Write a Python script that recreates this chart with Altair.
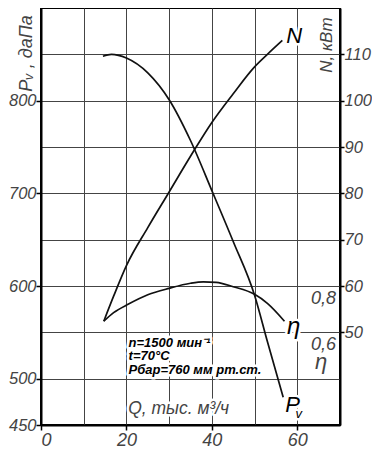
import altair as alt
import pandas as pd

# ---------------- data ----------------
pv_q = [14.5, 16.5, 20, 25, 30, 35, 40, 45, 50, 53, 56.7]
pv_val = [848, 850, 846, 830, 801, 757, 703, 648, 590, 540, 480]

n_q = [14.7, 17, 20, 25, 30, 35, 40, 45, 50, 53, 56.5]
n_val = [52.4, 57.8, 64.4, 72.6, 80.3, 88.0, 95.3, 101.5, 107.3, 110.0, 113]

eta_q = [14.7, 17, 20.5, 25, 30, 35, 38, 41, 45, 50, 53, 57]
eta_val = [0.648, 0.685, 0.722, 0.762, 0.79, 0.812, 0.818, 0.816, 0.797, 0.764, 0.725, 0.648]

x_ticks = [0, 20, 40, 60]
x_grid = [10, 20, 30, 40, 50, 60]
pv_ticks = [450, 500, 600, 700, 800]
n_ticks = [50, 60, 70, 80, 90, 100, 110]
eta_ticks = [0.6, 0.8]
eta_tick_labels = ["0,6", "0,8"]
note_lines = ["n=1500 мин⁻¹", "t=70°C", "Рбар=760 мм рт.ст."]

# ---------------- layout / style ----------------
W, H = 299, 417
FONT = "Liberation Sans"
GRAY = "#444444"
LINE = "#111111"

# every scale has an explicit domain, so independent scales still line up
XS = alt.Scale(domain=[0, 70], nice=False, zero=False)
YP = alt.Scale(domain=[450, 900], nice=False, zero=False)
YN = alt.Scale(domain=[30, 120], nice=False, zero=False)
YE = alt.Scale(domain=[0.2, 2.0], nice=False, zero=False)

pv_df = pd.DataFrame({"q": pv_q, "pv": pv_val})
n_df = pd.DataFrame({"q": n_q, "n": n_val})
eta_df = pd.DataFrame({"q": eta_q, "eta": eta_val})

halos, texts = [], []


def label(df, x, y, halo=True, **kw):
    color = kw.pop("color", "black")
    enc = dict(x=x, y=y, text=alt.Text("t:N"))
    base = alt.Chart(df)
    if halo:
        halos.append(base.mark_text(stroke="white", strokeWidth=5, fill="white",
                                    strokeJoin="round", **kw).encode(**enc))
    texts.append(base.mark_text(color=color, **kw).encode(**enc))


def xq():
    return alt.X("q:Q", scale=XS, axis=None)


yp = alt.Y("pv:Q", scale=YP, axis=None)
yn = alt.Y("n:Q", scale=YN, axis=None)
ye = alt.Y("eta:Q", scale=YE, axis=None)


def lbl(size):
    return dict(labelFont=FONT, labelFontSize=size, labelFontStyle="italic", labelColor=GRAY)


# ---------- curves with axes ----------
pv_line = alt.Chart(pv_df).mark_line(color=LINE, strokeWidth=1.7, interpolate="monotone").encode(
    x=alt.X("q:Q", scale=XS, axis=alt.Axis(
        values=x_ticks, grid=False, tickSize=5, tickColor="black", tickWidth=1.5,
        domain=True, domainColor="black", domainWidth=2,
        labelPadding=1, title=None, **lbl(18))),
    y=alt.Y("pv:Q", scale=YP, axis=alt.Axis(
        orient="left", values=pv_ticks, grid=True, gridColor=GRAY, gridWidth=1,
        tickSize=5, tickColor="black", tickWidth=1.5,
        domain=True, domainColor="black", domainWidth=2,
        labelPadding=0,
        title="Pᵥ ,  даПа", titleAngle=270, titleX=-15, titleY=45,
        titleAlign="center", titleBaseline="middle",
        titleFont=FONT, titleFontSize=18, titleFontStyle="italic",
        titleFontWeight="normal", titleColor=GRAY, **lbl(16.5))),
)

n_line = alt.Chart(n_df).mark_line(color=LINE, strokeWidth=1.7, interpolate="monotone").encode(
    x=alt.X("q:Q", scale=XS, axis=alt.Axis(
        orient="top", values=x_grid, grid=True, gridColor=GRAY, gridWidth=1,
        labels=False, ticks=False, domain=False, title=None)),
    y=alt.Y("n:Q", scale=YN, axis=alt.Axis(
        orient="right", values=n_ticks, grid=True, gridColor=GRAY, gridWidth=1,
        tickSize=4, tickColor="black", tickWidth=1.5,
        domain=True, domainColor="black", domainWidth=2,
        labelPadding=0, title=None, **lbl(16.5))),
)

eta_line = alt.Chart(eta_df).mark_line(color=LINE, strokeWidth=1.7, interpolate="monotone").encode(
    x=xq(), y=ye)

# ---------- texts ----------
label(pd.DataFrame({"q": [20.4], "pv": [467], "t": ["Q,  тыс.   м³/ч"]}), xq(), yp,
      font=FONT, fontSize=17.5, fontStyle="italic", color=GRAY, align="left", baseline="middle")
label(pd.DataFrame({"q": [20.5], "pv": [545], "t": ["\n".join(note_lines)]}), xq(), yp,
      font=FONT, fontSize=13, fontStyle="italic", fontWeight="bold", align="left",
      baseline="top", lineBreak="\n", lineHeight=13.5)
label(pd.DataFrame({"q": [57.2], "pv": [463.5], "t": ["P"]}), xq(), yp,
      font=FONT, fontSize=22, fontStyle="italic", align="left", baseline="alphabetic")
label(pd.DataFrame({"q": [59.6], "pv": [458], "t": ["v"]}), xq(), yp,
      font=FONT, fontSize=13, fontStyle="italic", align="left", baseline="alphabetic")
label(pd.DataFrame({"q": [66.9], "n": [112.0], "t": ["N,  кВт"]}), xq(), yn,
      font=FONT, fontSize=17, fontStyle="italic", color=GRAY, align="center",
      baseline="middle", angle=270)
label(pd.DataFrame({"q": [57.4], "n": [112.5], "t": ["N"]}), xq(), yn,
      font=FONT, fontSize=22, fontStyle="italic", align="left", baseline="alphabetic")
label(pd.DataFrame({"q": [57.6], "eta": [0.593], "t": ["η"]}), xq(), ye,
      font=FONT, fontSize=24, fontStyle="italic", align="left", baseline="alphabetic")
label(pd.DataFrame({"eta": eta_ticks, "t": eta_tick_labels}), alt.value(W - 4), ye, halo=False,
      font=FONT, fontSize=18, fontStyle="italic", color=GRAY, align="right",
      baseline="top", dy=4)
label(pd.DataFrame({"eta": [0.443], "t": ["η"]}), alt.value(W - 19), ye, halo=False,
      font=FONT, fontSize=22, fontStyle="italic", color=GRAY, align="center",
      baseline="alphabetic")

chart = (
    alt.layer(pv_line, n_line, eta_line, *halos, *texts)
    .resolve_scale(y="independent")
    .resolve_axis(x="independent", y="independent")
    .properties(width=W, height=H, autosize=alt.AutoSizeParams(type="none"),
                padding={"left": 33, "top": 0, "right": 32, "bottom": 25},
                background="white")
    .configure_view(stroke="black", strokeWidth=2)
)

chart.save("out.html", embed_options={"renderer": "svg", "actions": False})
